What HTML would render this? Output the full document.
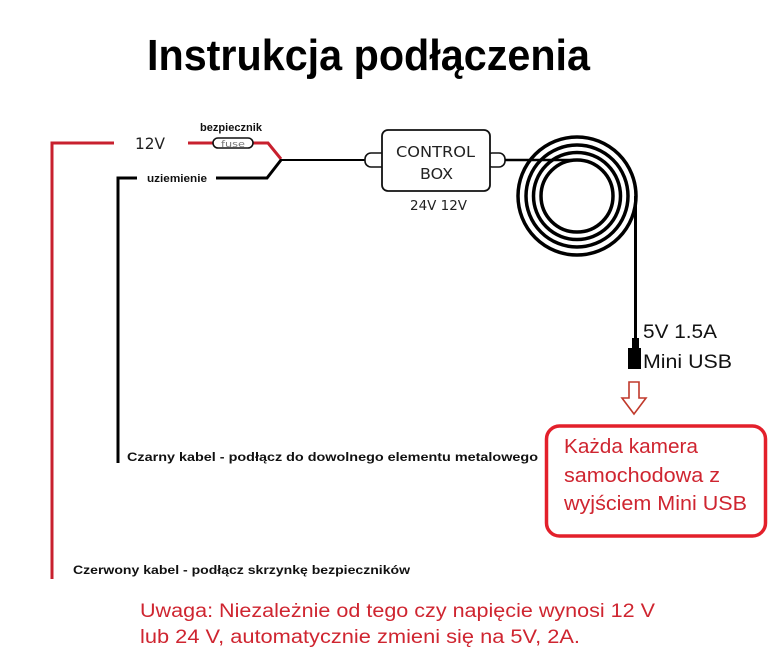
<!DOCTYPE html>
<html>
<head>
<meta charset="utf-8">
<style>
  html,body{margin:0;padding:0;background:#fff;}
  svg{display:block;}
  .b{font-family:"Liberation Sans",sans-serif;font-weight:bold;fill:#111;}
  .n{font-family:"Liberation Sans",sans-serif;fill:#111;}
  .g{font-family:"DejaVu Sans","Liberation Sans",sans-serif;fill:#222;}
  .r{font-family:"Liberation Sans",sans-serif;fill:#cf2530;}
</style>
</head>
<body>
<svg width="776" height="664" viewBox="0 0 776 664" xmlns="http://www.w3.org/2000/svg">
  <rect width="776" height="664" fill="#fff"/>

  <!-- Title -->
  <text class="b" x="147" y="70" font-size="44" textLength="443" lengthAdjust="spacingAndGlyphs" style="fill:#000">Instrukcja podłączenia</text>

  <!-- Red cable -->
  <polyline points="114,143 52,143 52,579" fill="none" stroke="#c8202e" stroke-width="3"/>
  <!-- Black cable -->
  <polyline points="137,178 118,178 118,463" fill="none" stroke="#000" stroke-width="3"/>

  <!-- 12V label -->
  <text class="g" x="135" y="149" font-size="16" textLength="30" lengthAdjust="spacingAndGlyphs">12V</text>

  <!-- bezpiecznik -->
  <text class="b" x="200" y="131" font-size="11" textLength="62" lengthAdjust="spacingAndGlyphs">bezpiecznik</text>

  <!-- red line to fuse -->
  <line x1="188" y1="143" x2="213" y2="143" stroke="#c8202e" stroke-width="3"/>
  <polyline points="253,143 268,143 281,159" fill="none" stroke="#c8202e" stroke-width="3"/>
  <!-- fuse -->
  <rect x="213" y="138" width="40" height="10" rx="5" ry="5" fill="#fff" stroke="#111" stroke-width="1.6"/>
  <text class="g" x="221" y="147" font-size="9" textLength="24" lengthAdjust="spacingAndGlyphs" style="fill:#777">fuse</text>

  <!-- uziemienie -->
  <text class="b" x="147" y="182" font-size="11" textLength="60" lengthAdjust="spacingAndGlyphs">uziemienie</text>
  <polyline points="216,178 267,178 281,160" fill="none" stroke="#000" stroke-width="3"/>

  <!-- black line to control box -->
  <line x1="280" y1="160" x2="366" y2="160" stroke="#000" stroke-width="2"/>

  <!-- Control box tabs -->
  <rect x="365" y="153" width="22" height="14" rx="6" ry="6" fill="#fff" stroke="#111" stroke-width="1.6"/>
  <rect x="486" y="153" width="19" height="14" rx="6" ry="6" fill="#fff" stroke="#111" stroke-width="1.6"/>
  <!-- Control box -->
  <rect x="382" y="130" width="108" height="61" rx="6" ry="6" fill="#fff" stroke="#111" stroke-width="1.8"/>
  <text class="g" x="396" y="157" font-size="15" textLength="79" lengthAdjust="spacingAndGlyphs">CONTROL</text>
  <text class="g" x="420" y="179" font-size="15" textLength="33" lengthAdjust="spacingAndGlyphs">BOX</text>
  <text class="g" x="410" y="210" font-size="13" textLength="57" lengthAdjust="spacingAndGlyphs">24V  12V</text>

  <!-- line from box to coil -->
  <line x1="505" y1="160" x2="578" y2="160" stroke="#000" stroke-width="2.5"/>

  <!-- Coil -->
  <g fill="none" stroke="#000" stroke-width="3.5">
    <circle cx="577" cy="196" r="59"/>
    <circle cx="577" cy="196" r="51"/>
    <circle cx="577" cy="196" r="43.5"/>
    <circle cx="577" cy="196" r="36"/>
  </g>
  <line x1="635.5" y1="196" x2="635.5" y2="342" stroke="#000" stroke-width="3"/>

  <!-- USB plug -->
  <rect x="632" y="338" width="7" height="12" fill="#000"/>
  <rect x="628" y="348" width="13" height="21" fill="#000"/>

  <text class="n" x="643" y="338" font-size="19" textLength="74" lengthAdjust="spacingAndGlyphs">5V 1.5A</text>
  <text class="n" x="643" y="368" font-size="19" textLength="89" lengthAdjust="spacingAndGlyphs">Mini USB</text>

  <!-- hollow red arrow -->
  <polygon points="629,382 639,382 639,398 646,398 634,414 622,398 629,398" fill="#fff" stroke="#c0392b" stroke-width="1.6" stroke-linejoin="miter"/>

  <!-- Red box -->
  <rect x="546.5" y="426" width="219" height="110" rx="13" ry="13" fill="#fff" stroke="#e3202b" stroke-width="3.5"/>
  <text class="r" x="564" y="453" font-size="20" textLength="134" lengthAdjust="spacingAndGlyphs">Każda kamera</text>
  <text class="r" x="564" y="482" font-size="20" textLength="156" lengthAdjust="spacingAndGlyphs">samochodowa z</text>
  <text class="r" x="564" y="510" font-size="20" textLength="183" lengthAdjust="spacingAndGlyphs">wyjściem Mini USB</text>

  <!-- Black bottom labels -->
  <text class="b" x="127" y="461" font-size="12" textLength="411" lengthAdjust="spacingAndGlyphs">Czarny kabel - podłącz do dowolnego elementu metalowego</text>
  <text class="b" x="73" y="574" font-size="12" textLength="337" lengthAdjust="spacingAndGlyphs">Czerwony kabel - podłącz skrzynkę bezpieczników</text>

  <!-- Bottom red note -->
  <text class="r" x="140" y="617" font-size="19" textLength="515" lengthAdjust="spacingAndGlyphs">Uwaga: Niezależnie od tego czy napięcie wynosi 12 V</text>
  <text class="r" x="140" y="643" font-size="19" textLength="440" lengthAdjust="spacingAndGlyphs">lub 24 V, automatycznie zmieni się na 5V, 2A.</text>
</svg>
</body>
</html>
